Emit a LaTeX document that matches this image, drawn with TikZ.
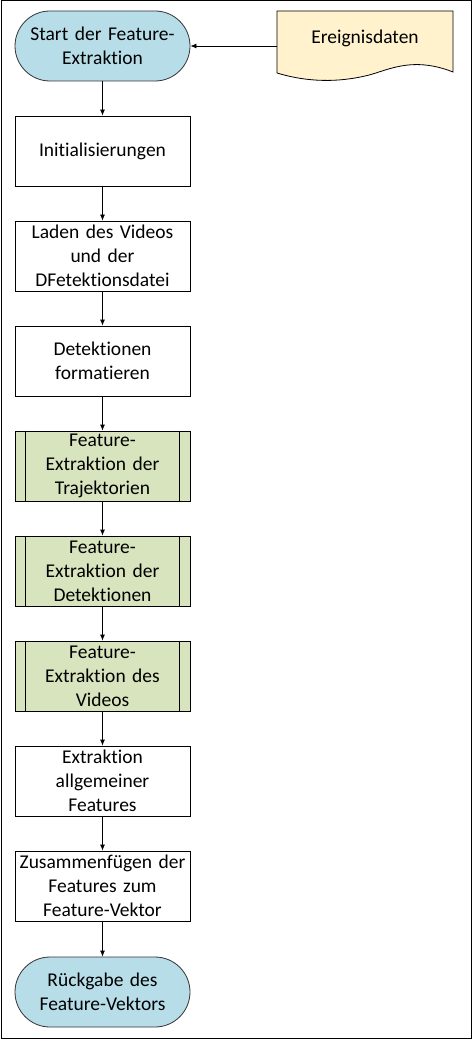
\documentclass[tikz,border=0pt]{standalone}
\usepackage{fontspec}
\setmainfont{Carlito}[Ligatures={NoCommon}]
\usetikzlibrary{arrows.meta}
\definecolor{termblue}{HTML}{B7DDE8}
\definecolor{subgreen}{HTML}{D7E4BD}
\definecolor{docyellow}{HTML}{FFF2CC}
\begin{document}
\begin{tikzpicture}[x=1pt,y=-1pt,
  every node/.style={font=\fontsize{19.5}{24}\selectfont, align=center, text width=175pt, inner sep=0pt},
  procbox/.style={draw=black, line width=0.8pt, fill=white, minimum width=175pt, minimum height=70pt},
  subproc/.style={procbox, fill=subgreen},
  termnode/.style={draw=black!80, line width=0.8pt, fill=termblue, rounded corners=35pt, minimum width=175pt, minimum height=70pt},
  conn/.style={draw=black, line width=0.8pt, -{Latex[length=6pt,width=5pt]}}]
\useasboundingbox (0,0) rectangle (473,1040);
\draw[line width=1pt] (1,1) rectangle (471,1038);

\node[termnode] (start) at (102.5,46) {Start der Feature-\\Extraktion};
\node[procbox] (init) at (102.5,151) {Initialisierungen};
\node[procbox] (laden) at (102.5,256) {Laden des Videos\\und der\\DFetektionsdatei};
\node[procbox] (format) at (102.5,361) {Detektionen\\formatieren};
\node[subproc] (traj) at (102.5,466) {Feature-\\Extraktion der\\Trajektorien};
\node[subproc] (det) at (102.5,571) {Feature-\\Extraktion der\\Detektionen};
\node[subproc] (vid) at (102.5,676) {Feature-\\Extraktion des\\Videos};
\node[procbox] (allg) at (102.5,781) {Extraktion\\allgemeiner\\Features};
\node[procbox] (zus) at (102.5,886) {Zusammenfügen der\\Features zum\\Feature-Vektor};
\node[termnode] (rueck) at (102.5,992) {Rückgabe des\\Feature-Vektors};

\foreach \n in {traj,det,vid}{
  \draw[line width=0.8pt] ([xshift=11pt]\n.north west) -- ([xshift=11pt]\n.south west);
  \draw[line width=0.8pt] ([xshift=-11pt]\n.north east) -- ([xshift=-11pt]\n.south east);
}

\draw[line width=0.8pt, fill=docyellow] (277,11) -- (453,11) -- (453,72)
  .. controls (410,55) and (385,72) .. (365,76)
  .. controls (330,84) and (300,80) .. (277,73) -- cycle;
\node[inner sep=0pt, text width=175pt] (doc) at (365,38) {Ereignisdaten};
\coordinate (docleft) at (277,46);

\draw[conn] (docleft) -- (start.east);
\draw[conn] (start) -- (init);
\draw[conn] (init) -- (laden);
\draw[conn] (laden) -- (format);
\draw[conn] (format) -- (traj);
\draw[conn] (traj) -- (det);
\draw[conn] (det) -- (vid);
\draw[conn] (vid) -- (allg);
\draw[conn] (allg) -- (zus);
\draw[conn] (zus) -- (rueck);
\end{tikzpicture}
\end{document}
